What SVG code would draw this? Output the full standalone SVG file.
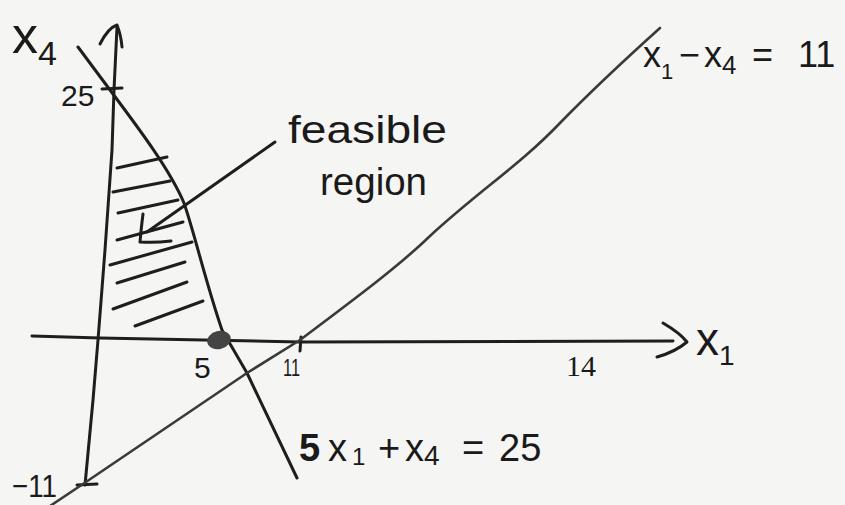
<svg xmlns="http://www.w3.org/2000/svg" width="845" height="505" viewBox="0 0 845 505">
<style>
.ln{fill:none;stroke:#1e1e1e;stroke-width:3;stroke-linecap:round;stroke-linejoin:round}
.gr{fill:none;stroke:#3a3a3a;stroke-width:2.6;stroke-linecap:round;stroke-linejoin:round}
.ht{fill:none;stroke:#1e1e1e;stroke-width:3;stroke-linecap:round}
.tx{font-family:"Liberation Sans",Arial,sans-serif;fill:#1a1a1a}
.sf{font-family:"Liberation Serif","Times New Roman",serif;fill:#1a1a1a}
</style>
<rect width="845" height="505" fill="#f5f5f3"/>
<g id="axes">
  <path class="ln" d="M85,485 L93,400 L98,340 L105,250 L112,150 L114,90 L117,27"/>
  <path class="ln" d="M100,44 Q108,28 117,25 Q121,35 122,47"/>
  <path class="ln" d="M32,336 L100,338 L300,342 L673,341"/>
  <path class="ln" d="M663,323 Q680,333 687,342 Q675,352 657,357"/>
  <path class="ln" d="M102,89 L122,88"/>
  <path class="ln" d="M301,337 L300,351"/>
  <path class="ln" d="M77,485 L97,484"/>
</g>
<g id="connectors">
  <path id="line-5x1" class="ln" d="M78,47 L110,90 C140,130 170,170 184,203 C195,235 205,280 222,330 L247,373 L297,478"/>
  <path id="line-x1-x4" class="gr" d="M50,506 L83,484 L247,373 L300,340 C360,295 400,265 430,236 C480,190 520,165 560,123 C600,82 630,55 660,28"/>
  <path id="pointer" class="ln" d="M275,142 L147,232"/>
  <path class="ln" d="M143,214 Q141,230 140,242 Q155,243 171,241"/>
</g>
<g id="feasible-region">
  <path class="ht" d="M117,168 L167,157"/>
  <path class="ht" d="M113,192 L170,181"/>
  <path class="ht" d="M118,213 L178,200"/>
  <path class="ht" d="M117,240 L183,222"/>
  <path class="ht" d="M110,265 L192,242"/>
  <path class="ht" d="M117,283 L185,262"/>
  <path class="ht" d="M113,309 L187,282"/>
  <path class="ht" d="M135,326 L203,301"/>
</g>
<g id="point-5">
  <ellipse cx="219" cy="340" rx="12" ry="9" fill="#444" transform="rotate(-15 219 340)"/>
</g>
<g id="labels">
  <text class="tx" x="12" y="53" font-size="52">x<tspan font-size="34" dy="12">4</tspan></text>
  <text class="tx" x="61" y="106" font-size="30">25</text>
  <text class="tx" x="194" y="378" font-size="30">5</text>
  <text class="tx" x="283" y="376" font-size="24" textLength="17" lengthAdjust="spacingAndGlyphs">11</text>
  <text class="sf" x="566" y="376" font-size="30">14</text>
  <text class="tx" x="12" y="497" font-size="32" textLength="45" lengthAdjust="spacingAndGlyphs">−11</text>
  <text class="tx" x="696" y="355" font-size="46">x<tspan font-size="28" dy="10">1</tspan></text>
  <text class="tx" x="288" y="143" font-size="38" textLength="159" lengthAdjust="spacingAndGlyphs">feasible</text>
  <text class="tx" x="320" y="195" font-size="38" textLength="107" lengthAdjust="spacingAndGlyphs">region</text>
  <text class="tx" x="643" y="67" font-size="36">x<tspan font-size="22" dy="12">1</tspan><tspan dy="-12" x="679">−</tspan><tspan x="704">x</tspan><tspan font-size="26" dy="7">4</tspan><tspan dy="-7" x="752">=</tspan><tspan x="798">11</tspan></text>
  <text class="tx" x="299" y="461" font-size="38"><tspan font-weight="bold">5</tspan><tspan x="328">x</tspan><tspan font-size="24" dy="4" x="352">1</tspan><tspan dy="-4" x="378">+</tspan><tspan x="405">x</tspan><tspan font-size="28" dy="4">4</tspan><tspan dy="-4" x="462">=</tspan><tspan x="499">25</tspan></text>
</g>
</svg>
